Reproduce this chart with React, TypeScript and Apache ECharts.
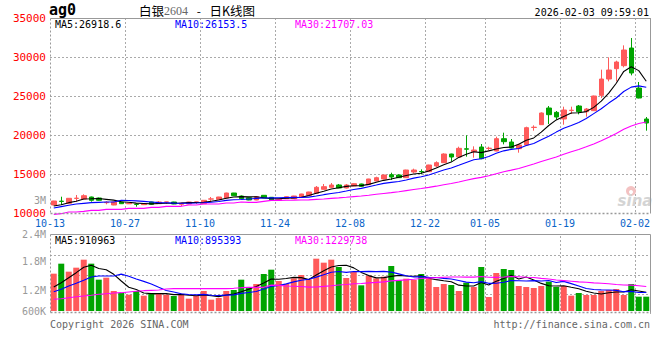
import React, { useEffect, useRef } from "react";
import * as echarts from "echarts";

const MONO = '"DejaVu Sans Mono", monospace';
const CJK = '"Noto Sans CJK SC", sans-serif';
const RED = "#ff5a5a";
const GREEN = "#00a400";

const dates = [
  "10-13", "10-14", "10-15", "10-16", "10-17", "10-20", "10-21", "10-22", "10-23", "10-24",
  "10-27", "10-28", "10-29", "10-30", "10-31", "11-03", "11-04", "11-05", "11-06", "11-07",
  "11-10", "11-11", "11-12", "11-13", "11-14", "11-17", "11-18", "11-19", "11-20", "11-21",
  "11-24", "11-25", "11-26", "11-27", "11-28", "12-01", "12-02", "12-03", "12-04", "12-05",
  "12-08", "12-09", "12-10", "12-11", "12-12", "12-15", "12-16", "12-17", "12-18", "12-19",
  "12-22", "12-23", "12-24", "12-25", "12-26", "12-29", "12-30", "12-31",
  "01-05", "01-06", "01-07", "01-08", "01-09", "01-12", "01-13", "01-14", "01-15", "01-16",
  "01-19", "01-20", "01-21", "01-22", "01-23", "01-26", "01-27", "01-28", "01-29", "01-30",
  "02-02", "02-03",
];

const opens = [
  11026, 11520, 11244, 11870, 11795, 12051, 11923, 11320, 11026, 11410,
  11180, 11130, 11070, 11410, 11192, 11400, 11410, 11115, 11154, 11400,
  11192, 11780, 11756, 11923, 12564, 12179, 11961, 11667, 12269, 12013,
  11640, 11833, 11833, 12051, 12269, 12526, 13038, 13295, 13590, 13205,
  13461, 13718, 13628, 14102, 14359, 14910, 14871, 14529, 15256, 15320,
  15299, 16025, 16452, 17563, 17179, 18230, 17862, 18460, 18270, 17948,
  19529, 19101, 18247, 18717, 20960, 21323, 23460, 22904, 22050, 23140,
  23716, 22990, 23118, 25084, 27177, 28502, 28887, 31151, 26024, 22050,
];
const closes = [
  11538, 11480, 11885, 11900, 12218, 11628, 11628, 11372, 11410, 11192,
  11260, 11100, 11170, 11115, 11410, 11420, 11154, 11282, 11410, 11420,
  11628, 11810, 12051, 12564, 12218, 11833, 11667, 12090, 11923, 11667,
  11760, 12090, 12179, 12436, 12692, 13295, 13372, 13590, 13205, 13590,
  13756, 13423, 14359, 14525, 14872, 14615, 14529, 15512, 15512, 15280,
  16153, 16452, 17563, 17179, 18290, 18180, 18076, 16965, 18310, 19529,
  19144, 18332, 18717, 20939, 21000, 22819, 22605, 22306, 23204, 23180,
  22990, 23332, 24998, 27177, 28331, 29357, 30895, 27947, 24742, 21537,
];
const lows = [
  10990, 11026, 11220, 11449, 11780, 11449, 11580, 11115, 11000, 11150,
  11150, 10808, 11020, 11090, 11170, 11154, 11130, 10897, 11130, 11154,
  11170, 11410, 11740, 11900, 12200, 11800, 11640, 11640, 11900, 11640,
  11600, 11800, 11800, 11923, 12250, 12500, 13000, 13205, 13180, 13150,
  13440, 13400, 13600, 14080, 14330, 14231, 14500, 14500, 15085, 14957,
  15280, 15854, 16430, 16580, 17150, 17221, 17093, 16900, 17990, 17920,
  18802, 18300, 17734, 18700, 20554, 21300, 21409, 21964, 21323, 22690,
  22648, 22349, 23100, 24743, 26878, 26878, 28673, 27647, 24700, 20554,
];
const highs = [
  11560, 12090, 11920, 12308, 12397, 12100, 11980, 11500, 11450, 11440,
  11300, 11244, 11250, 11440, 11538, 11430, 11440, 11300, 11430, 11440,
  11660, 12051, 12070, 12600, 12580, 12250, 12000, 12179, 12300, 12050,
  11820, 12150, 12200, 12460, 12720, 13461, 13718, 13846, 13718, 13718,
  13800, 13760, 14380, 14654, 14900, 15166, 14950, 15540, 15683, 15598,
  16180, 16623, 17649, 17600, 18503, 19956, 18546, 18845, 18503, 19785,
  20298, 19486, 18888, 21067, 21238, 22900, 23716, 23075, 23631, 23631,
  23844, 23460, 25050, 28374, 29955, 29527, 31493, 32433, 26793, 22306,
];
const volumes = [
  1829000, 2319000, 1927000, 2123000, 2515000, 2319000, 1535000, 1633000, 980000, 882000,
  800000, 980000, 751000, 833000, 882000, 800000, 735000, 833000, 604000, 751000,
  980000, 555000, 637000, 980000, 1029000, 1535000, 1160000, 1323000, 1813000, 2025000,
  1470000, 1323000, 1601000, 1764000, 1552000, 2564000, 2368000, 2515000, 2156000, 1617000,
  1911000, 1258000, 1731000, 1601000, 1682000, 2205000, 1519000, 1584000, 1519000, 1813000,
  1584000, 1176000, 1323000, 1274000, 980000, 1388000, 1176000, 2156000, 686000, 1862000,
  2058000, 2009000, 1225000, 1176000, 1127000, 1225000, 1437000, 1176000, 1225000, 751000,
  882000, 784000, 784000, 980000, 1029000, 1078000, 784000, 1323000, 702000, 702000,
];

const ma5Lead = [10897, 11068, 11325, 11496];
const ma10Lead = [10641, 10812, 10983, 11154, 11239, 11325, 11367, 11410, 11410];
const ma30Lead = [
  9829, 9915, 10128, 10128, 10214, 10342, 10342, 10470, 10470, 10470,
  10598, 10598, 10598, 10726, 10726, 10855, 10855, 10855, 11026, 11026,
  11154, 11154, 11154, 11282, 11282, 11410, 11367, 11367, 11496,
];
const volMa5Lead = [1176000, 1388000, 1633000, 1878000];
const volMa10Lead = [947000, 1062000, 1225000, 1356000, 1503000, 1666000, 1715000, 1715000, 1715000];
const volMa30Lead = [
  572000, 604000, 653000, 702000, 735000, 768000, 817000, 849000, 882000, 898000,
  931000, 964000, 996000, 1013000, 1029000, 1078000, 1094000, 1094000, 1094000, 1094000,
  1094000, 1094000, 1094000, 1094000, 1111000, 1143000, 1160000, 1160000, 1160000,
];

const labelDates = ["10-13", "10-27", "11-10", "11-24", "12-08", "12-22", "01-05", "01-19", "02-02"];
const volumeTickLabels = ["3M", "2.4M", "1.8M", "1.2M", "600K"];
const priceMaTexts = ["MA5:26918.6", "MA10:26153.5", "MA30:21707.03"];
const volumeMaTexts = ["MA5:910963", "MA10:895393", "MA30:1229738"];
const titleCode = "ag0";
const titleName = "白银";
const titleContract = "2604";
const titleDash = " - ";
const titleSuffix = "日K线图";
const timestamp = "2026-02-03 09:59:01";

function movingAverage(src: number[], n: number, lead: number[]) {
  return src.map((_, i) => {
    if (i < n - 1) return lead[i];
    let s = 0;
    for (let k = i - n + 1; k <= i; k++) s += src[k];
    return Math.round((s / n) * 100) / 100;
  });
}

export default function App() {
  const ref = useRef<HTMLDivElement>(null);
  useEffect(() => {
    document.body.style.margin = "0";
    const chart = echarts.init(ref.current!, null, { renderer: "svg" });
    const labelIdx = new Set(labelDates.map((d) => dates.indexOf(d)));
    const candleData = dates.map((_, i) => [opens[i], closes[i], lows[i], highs[i]]);
    const volData = volumes.map((v, i) => ({
      value: v,
      itemStyle: { color: closes[i] >= opens[i] ? RED : GREEN },
    }));
    const ma5 = movingAverage(closes, 5, ma5Lead);
    const ma10 = movingAverage(closes, 10, ma10Lead);
    const ma30 = movingAverage(closes, 30, ma30Lead);
    const vma5 = movingAverage(volumes, 5, volMa5Lead);
    const vma10 = movingAverage(volumes, 10, volMa10Lead);
    const vma30 = movingAverage(volumes, 30, volMa30Lead);

    const gridLine = { color: "#aaa", type: [2, 2] as any, width: 1 };
    const xAxisFor = (gridIndex: number, showLabels: boolean) => ({
      type: "category",
      gridIndex,
      data: dates,
      boundaryGap: true,
      axisLine: { show: false },
      axisTick: { show: false },
      axisLabel: showLabels
        ? {
            show: true,
            interval: (i: number) => labelIdx.has(i),
            color: "#0a64c8",
            fontFamily: MONO,
            fontSize: 10,
            lineHeight: 10,
            margin: 5,
            padding: [0, 7.5, 0, 0],
          }
        : { show: false },
      splitLine: {
        show: true,
        interval: (i: number) => labelIdx.has(i) && i > 0,
        lineStyle: gridLine,
      },
    });

    const lineSeries = (name: string, data: number[], color: string, xi: number, yi: number) => ({
      name,
      type: "line",
      xAxisIndex: xi,
      yAxisIndex: yi,
      data,
      symbol: "none",
      clip: false,
      lineStyle: { color, width: 1.1 },
      z: 5,
    });

    const text = (t: string, x: number, y: number, fill: string, font: string, align = "left") => ({
      type: "text",
      x,
      y,
      silent: true,
      z: 10,
      style: { text: t, fill, font, align, verticalAlign: "middle", lineHeight: 10 },
    });

    const frame = (x0: number, y0: number, x1: number, y1: number) => [
      { type: "line", silent: true, z: 9, shape: { x1: x0, y1: y0, x2: x1, y2: y0 }, style: { stroke: "#999", lineWidth: 1 } },
      { type: "line", silent: true, z: 9, shape: { x1: x1, y1: y0, x2: x1, y2: y1 }, style: { stroke: "#999", lineWidth: 1 } },
      { type: "line", silent: true, z: 9, shape: { x1: x0, y1: y0, x2: x0, y2: y1 }, style: { stroke: "#999", lineWidth: 1, lineDash: [2, 2] } },
      { type: "line", silent: true, z: 9, shape: { x1: x0, y1: y1, x2: x1, y2: y1 }, style: { stroke: "#999", lineWidth: 1.5, lineDash: [2, 2] } },
    ];

    const volLabelY = [200, 234, 261, 290, 311];
    const maX = [55, 175, 295];
    const maColors = ["#000000", "#0000ff", "#ff00ff"];
    const font10 = `10px ${MONO}`;

    const graphic: any[] = [
      ...frame(50.5, 18.5, 650.5, 213.5),
      ...frame(50.5, 234.5, 650.5, 312.5),
      {
        type: "text",
        x: 49,
        y: 10,
        silent: true,
        z: 10,
        style: { text: titleCode, fill: "#000", font: `bold 15px ${MONO}`, verticalAlign: "middle", lineHeight: 13 },
      },
      {
        type: "text",
        x: 139,
        y: 10.5,
        silent: true,
        z: 10,
        style: {
          text: `{a|${titleName}}{b|${titleContract}}{c|${titleDash}}{a|${titleSuffix}}`,
          verticalAlign: "middle",
          rich: {
            a: { fontSize: 12.5, fontFamily: CJK, fill: "#000", lineHeight: 12 },
            b: { fontSize: 12, fontFamily: '"Liberation Serif", serif', fill: "#666", lineHeight: 12 },
            c: { fontSize: 12, fontFamily: CJK, fill: "#000", lineHeight: 12, padding: [0, 6, 0, 6] },
          },
        },
      },
      text(timestamp, 649, 12, "#000", font10, "right"),
      ...priceMaTexts.map((t, k) => text(t, maX[k], 24, maColors[k], font10)),
      ...volumeMaTexts.map((t, k) => text(t, maX[k], 240, maColors[k], font10)),
      ...volumeTickLabels.map((t, k) => text(t, 46, volLabelY[k], "#999", font10, "right")),
      text("Copyright 2026 SINA.COM", 50, 324, "#666", font10),
      text("http://finance.sina.com.cn", 650, 324, "#666", font10, "right"),
      { type: "circle", silent: true, z: 8, shape: { cx: 631, cy: 191, r: 5 }, style: { fill: "#f3c2c2" } },
      { type: "circle", silent: true, z: 8, shape: { cx: 631, cy: 192, r: 2 }, style: { fill: "#fff" } },
      {
        type: "text",
        x: 635,
        y: 201,
        silent: true,
        z: 8,
        style: {
          text: "sina",
          fill: "#d4d4d4",
          font: `italic bold 15px "DejaVu Sans", sans-serif`,
          align: "center",
          verticalAlign: "middle",
        },
      },
    ];

    const option: any = {
      animation: false,
      backgroundColor: "#ffffff",
      grid: [
        { left: 50, right: 10, top: 18, height: 195, outerBoundsMode: "none" },
        { left: 50, right: 10, top: 236, height: 78, outerBoundsMode: "none" },
      ],
      xAxis: [xAxisFor(0, true), xAxisFor(1, false)],
      yAxis: [
        {
          type: "value",
          gridIndex: 0,
          min: 10000,
          max: 35000,
          interval: 5000,
          axisLine: { show: false },
          axisTick: { show: false },
          axisLabel: {
            color: "#ff0000",
            fontFamily: MONO,
            fontSize: 11,
            margin: 4,
            lineHeight: 10,
            padding: [0, 0, 6, 0],
            formatter: (v: number) => String(v),
          },
          splitLine: { show: true, lineStyle: gridLine, showMinLine: false, showMaxLine: false },
        },
        {
          type: "value",
          gridIndex: 1,
          min: -147000,
          max: 3675000,
          axisLine: { show: false },
          axisTick: { show: false },
          axisLabel: { show: false },
          splitLine: { show: false },
        },
        {
          type: "value",
          gridIndex: 1,
          position: "left",
          min: 0,
          max: 4,
          interval: 1,
          axisLine: { show: false },
          axisTick: { show: false },
          axisLabel: { show: false },
          splitLine: { show: true, lineStyle: gridLine, showMinLine: false, showMaxLine: false },
        },
      ],
      series: [
        {
          name: "K",
          type: "candlestick",
          xAxisIndex: 0,
          yAxisIndex: 0,
          data: candleData,
          barWidth: 5,
          itemStyle: { color: RED, color0: GREEN, borderColor: RED, borderColor0: GREEN, borderWidth: 1 },
          z: 3,
        },
        lineSeries("MA5", ma5, "#000000", 0, 0),
        lineSeries("MA10", ma10, "#0000ff", 0, 0),
        lineSeries("MA30", ma30, "#ff00ff", 0, 0),
        {
          name: "VOL",
          type: "bar",
          xAxisIndex: 1,
          yAxisIndex: 1,
          data: volData,
          barWidth: 6,
          z: 3,
        },
        lineSeries("VMA5", vma5, "#000000", 1, 1),
        lineSeries("VMA10", vma10, "#0000ff", 1, 1),
        lineSeries("VMA30", vma30, "#ff00ff", 1, 1),
      ],
      graphic,
    };
    chart.setOption(option);
    return () => chart.dispose();
  }, []);
  return <div ref={ref} style={{ width: 660, height: 360, background: "#fff" }} />;
}
